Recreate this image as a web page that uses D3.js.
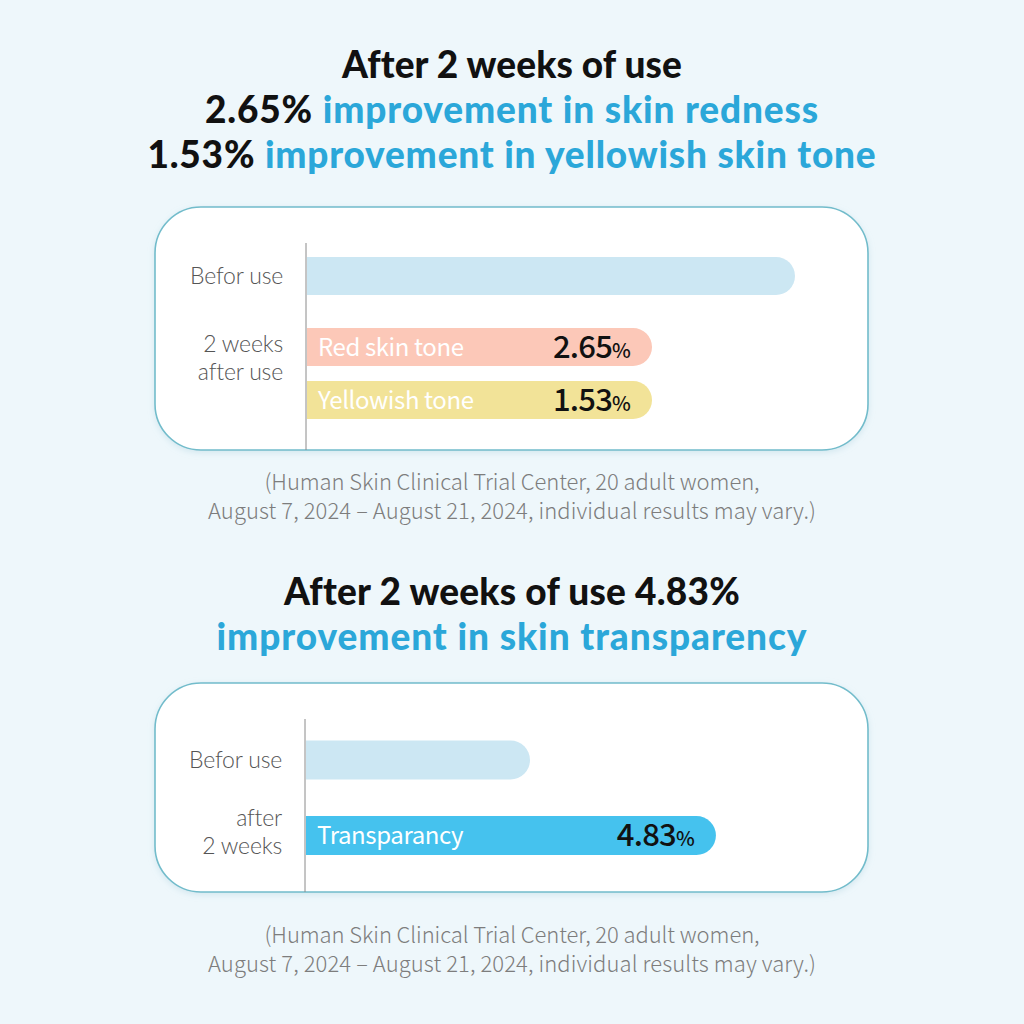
<!DOCTYPE html>
<html><head><meta charset="utf-8">
<script src="https://cdn.jsdelivr.net/npm/d3@7"></script>
<style>
html,body{margin:0;padding:0;background:#eef7fb;}
svg{display:block;}
</style></head>
<body>
<svg id="c" width="1024" height="1024"></svg>
<script>
// ---- data ----
const title1Lines = [
  [{t:"After 2 weeks of use", c:"dark"}],
  [{t:"2.65% ", c:"dark"}, {t:"improvement in skin redness", c:"blue"}],
  [{t:"1.53% ", c:"dark"}, {t:"improvement in yellowish skin tone", c:"blue"}]
];
const title2Lines = [
  [{t:"After 2 weeks of use 4.83%", c:"dark"}],
  [{t:"improvement in skin transparency", c:"blue"}]
];
const footnoteLines = [
  "(Human Skin Clinical Trial Center, 20 adult women,",
  "August 7, 2024 – August 21, 2024, individual results may vary.)"
];
// panel 1
const groups1 = [["Befor use"], ["2 weeks", "after use"]];
const barGroup1 = [0, 1, 1];
const barNames1 = ["", "Red skin tone", "Yellowish tone"];
const barValues1 = [100, 70.7, 70.7];   // relative bar length (index)
const barPct1 = [null, "2.65", "1.53"];
const barColors1 = ["#cce7f3", "#fcc8b8", "#f2e398"];
// panel 2
const groups2 = [["Befor use"], ["after", "2 weeks"]];
const barGroup2 = [0, 1];
const barNames2 = ["", "Transparancy"];
const barValues2 = [45.9, 84.0];
const barPct2 = [null, "4.83"];
const barColors2 = ["#cce7f3", "#45c2ee"];

// ---- drawing ----
const svg = d3.select("#c");
const COL = {dark:"#111111", blue:"#2ba7d9"};
const titleFont = "Lato,'Noto Sans',sans-serif";
const labelFont = "Lato,'Noto Sans',sans-serif";
const bodyFont = "'Noto Sans CJK KR','Noto Sans',sans-serif";

svg.append("rect").attr("width",1024).attr("height",1024).attr("fill","#eef7fb");

const defs = svg.append("defs");
const f = defs.append("filter").attr("id","sh").attr("x","-5%").attr("y","-10%").attr("width","110%").attr("height","130%");
f.append("feDropShadow").attr("dx",0).attr("dy",2).attr("stdDeviation",3).attr("flood-color","#9fc9d8").attr("flood-opacity",0.35);

function fitSpan(sp, target, base){
  const w = sp.node().getComputedTextLength();
  const n = sp.text().length;
  sp.attr("letter-spacing", base + (target-w)/n);
}
function drawTitle(lines, baseY, lh, widths){
  lines.forEach((segs,i)=>{
    const t = svg.append("text").attr("text-anchor","middle").attr("font-family",titleFont)
      .attr("font-weight",900).attr("font-size",37).attr("x",512).attr("y",baseY+i*lh).attr("letter-spacing",-1);
    segs.forEach(s=>t.append("tspan").attr("fill",COL[s.c]).text(s.t));
    fitSpan(t, widths[i], -1);
  });
}
function drawFoot(baseY, cx){
  const widths = [495, 608];
  footnoteLines.forEach((l,i)=>{
    const t = svg.append("text").attr("text-anchor","middle").attr("x",cx).attr("y",baseY+i*29)
      .attr("font-family",bodyFont).attr("font-weight",300).attr("font-size",22).attr("fill","#7d7d7d")
      .attr("letter-spacing",-0.4).text(l);
    fitSpan(t, widths[i], -0.4);
  });
}

const x = d3.scaleLinear().domain([0,100]).range([0,488]);

function drawPanel(opt){
  const {top, bottom, axisX, groups, barGroup, names, values, pct, colors, groupY, subStep, bh, labelLines} = opt;
  svg.append("rect").attr("x",155).attr("y",top).attr("width",713).attr("height",bottom-top)
    .attr("rx",46).attr("ry",46).attr("fill","#ffffff").attr("stroke","#72bccb").attr("stroke-width",1.6)
    .attr("filter","url(#sh)");
  svg.append("line").attr("x1",axisX).attr("x2",axisX).attr("y1",top+36).attr("y2",bottom)
    .attr("stroke","#8a8a8a").attr("stroke-width",1);
  const y = d3.scaleLinear().domain([0,1]).range(groupY);
  let sub = {};
  const cy = barGroup.map((g)=>{ sub[g]=(sub[g]===undefined?0:sub[g]+1); return y(g)+sub[g]*subStep; });
  const g = svg.append("g");
  values.forEach((v,i)=>{
    const w = x(v), r = bh/2, x0 = axisX+1, y0 = cy[i]-bh/2;
    const p = `M${x0},${y0}H${x0+w-r}A${r},${r} 0 0 1 ${x0+w-r},${y0+bh}H${x0}Z`;
    g.append("path").attr("d",p).attr("fill",colors[i]);
    if(names[i]) g.append("text").attr("x",x0+11).attr("y",cy[i]+8.5).attr("font-family",bodyFont)
      .attr("font-size",24).attr("fill","#ffffff").attr("letter-spacing",-0.4).text(names[i]);
    if(pct[i]){
      const t = g.append("text").attr("x",x0+w-22).attr("y",cy[i]+10.5).attr("text-anchor","end")
        .attr("font-family",bodyFont).attr("font-weight",500).attr("fill","#111").attr("letter-spacing",-0.8);
      t.append("tspan").attr("font-size",31).text(pct[i]);
      t.append("tspan").attr("font-size",20).text("%");
    }
  });
  // category labels
  groups.forEach((lines,gi)=>{
    const gy = gi===0 ? cy[barGroup.indexOf(0)] : labelLines;
    lines.forEach((l,li)=>{
      svg.append("text").attr("text-anchor","end").attr("font-family",labelFont)
        .attr("font-weight",300).attr("font-size",23).attr("fill","#555").attr("letter-spacing",-0.2)
        .attr("x",axisX-23).attr("y",gy + (li-(lines.length-1)/2)*28 + 8).text(l);
    });
  });
}

drawTitle(title1Lines, 78, 45, [340, 614, 729]);
drawPanel({top:207,bottom:450,axisX:306,groups:groups1,barGroup:barGroup1,names:barNames1,values:barValues1,
  pct:barPct1,colors:barColors1,groupY:[276,347],subStep:53,bh:38,labelLines:358});
drawFoot(490, 512);
drawTitle(title2Lines, 605, 45, [456, 591]);
drawPanel({top:683,bottom:892,axisX:305,groups:groups2,barGroup:barGroup2,names:barNames2,values:barValues2,
  pct:barPct2,colors:barColors2,groupY:[760,835.5],subStep:53,bh:39,labelLines:832});
drawFoot(943, 512);
</script>
</body></html>
